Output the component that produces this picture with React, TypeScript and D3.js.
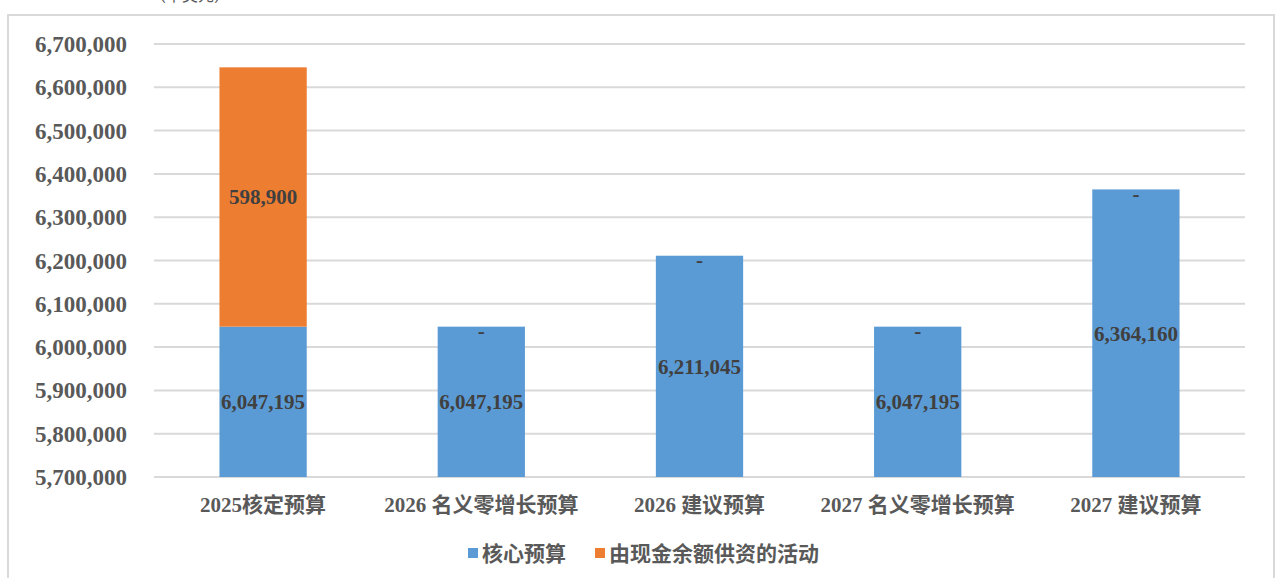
import * as d3 from "d3";

const categories = [
  "2025核定预算",
  "2026 名义零增长预算",
  "2026 建议预算",
  "2027 名义零增长预算",
  "2027 建议预算",
];
const coreBudget = [6047195, 6047195, 6211045, 6047195, 6364160];
const cashBalance = [598900, 0, 0, 0, 0];
const seriesNames = ["核心预算", "由现金余额供资的活动"];
const yTicks = [5700000, 5800000, 5900000, 6000000, 6100000, 6200000, 6300000, 6400000, 6500000, 6600000, 6700000];

const W = 1277;
const H = 578;
const COLORS = ["#5b9bd5", "#ed7d31"];
const SERIF = "'Liberation Serif', 'Times New Roman', 'Noto Sans CJK SC', serif";
const SANS = "'Noto Sans CJK SC', 'Noto Sans', sans-serif";

export default function App() {
  const left = 154;
  const right = 1245;
  const x = d3.scaleBand<string>().domain(categories).range([left, right]).paddingInner(0.6).paddingOuter(0.3);
  const y = d3.scaleLinear().domain([5700000, 6700000]).range([477, 44]).clamp(true);
  const fmt = d3.format(",");

  const rows = categories.map((c, i) => ({ cat: c, core: coreBudget[i], cash: cashBalance[i] }));
  const stack = d3.stack<{ cat: string; core: number; cash: number }>().keys(["core", "cash"]);
  const layers = stack(rows);

  return (
    <svg
      width={W}
      height={H}
      style={{ position: "fixed", left: 0, top: 0, background: "#fff" }}
    >
      <text x={190} y={1} textAnchor="middle" fontFamily={SANS} fontSize={16} fill="#595959">
        （千美元）
      </text>
      <rect x={8} y={15} width={1266} height={570} fill="none" stroke="#d9d9d9" strokeWidth={2} />
      {yTicks.map((t) => (
        <g key={t}>
          <line x1={left} x2={right} y1={y(t)} y2={y(t)} stroke="#d9d9d9" strokeWidth={2} />
          <text
            x={127}
            y={y(t)}
            dy="0.35em"
            textAnchor="end"
            fontFamily={SERIF}
            fontWeight="bold"
            fontSize={23}
            fill="#595959"
          >
            {fmt(t)}
          </text>
        </g>
      ))}
      {layers.map((layer, li) =>
        layer.map((d) => {
          const x0 = x(d.data.cat)!;
          const y0 = y(d[1]);
          const h = y(d[0]) - y(d[1]);
          const v = d[1] - d[0];
          return (
            <g key={li + d.data.cat}>
              <rect x={x0} y={y0} width={x.bandwidth()} height={h} fill={COLORS[li]} />
              <text
                x={x0 + x.bandwidth() / 2}
                y={y0 + h / 2 + (v === 0 ? 4 : 0)}
                dy="0.35em"
                textAnchor="middle"
                fontFamily={SERIF}
                fontWeight="bold"
                fontSize={21}
                fill="#404040"
              >
                {v === 0 ? "-" : fmt(v)}
              </text>
            </g>
          );
        })
      )}
      {categories.map((c) => (
        <text
          key={c}
          x={x(c)! + x.bandwidth() / 2}
          y={512}
          textAnchor="middle"
          fontFamily={SERIF}
          fontWeight="bold"
          fontSize={21}
          fill="#595959"
        >
          {c}
        </text>
      ))}
      {seriesNames.map((s, i) => {
        const lx = [468, 595][i];
        return (
          <g key={s}>
            <rect x={lx} y={548} width={10} height={10} fill={COLORS[i]} />
            <text x={lx + 14} y={561} fontFamily={SANS} fontWeight="bold" fontSize={21} fill="#595959">
              {s}
            </text>
          </g>
        );
      })}
    </svg>
  );
}
